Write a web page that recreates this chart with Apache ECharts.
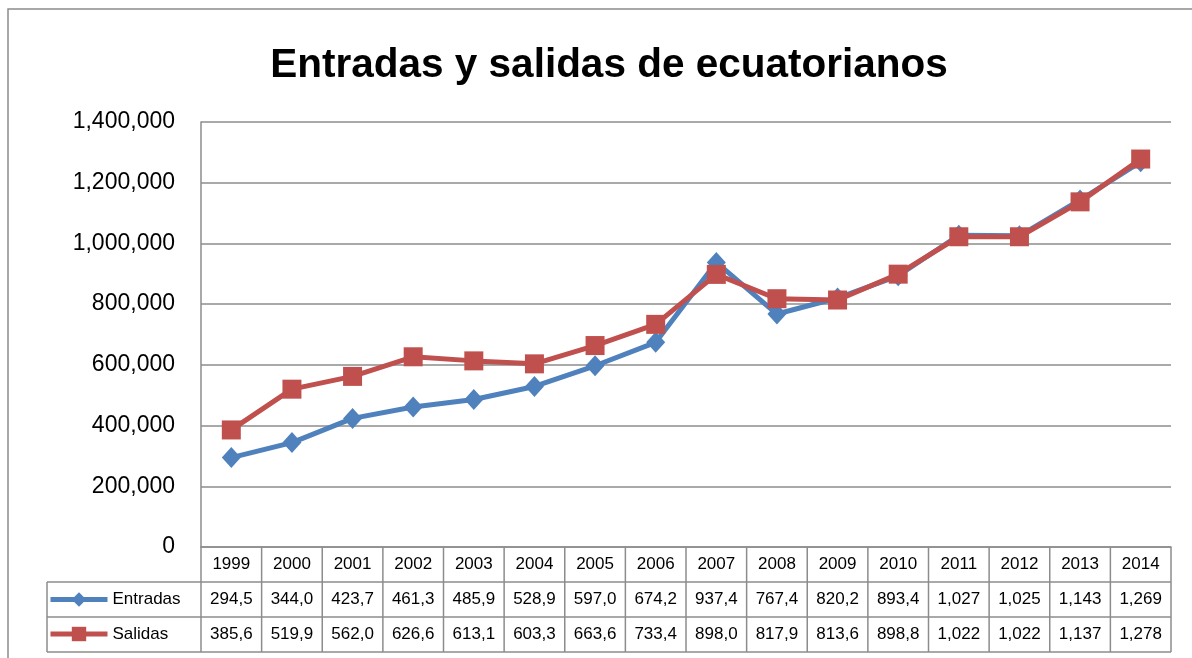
<!DOCTYPE html>
<html>
<head>
<meta charset="utf-8">
<script src="https://cdn.jsdelivr.net/npm/echarts@6/dist/echarts.min.js"></script>
<style>
  html, body { margin: 0; padding: 0; background: #fff; }
  #chart { width: 1192px; height: 658px; }
</style>
</head>
<body>
<div id="chart"></div>
<script>
(function() {
  var years = ['1999', '2000', '2001', '2002', '2003', '2004', '2005', '2006',
               '2007', '2008', '2009', '2010', '2011', '2012', '2013', '2014'];
  var entradas = [294500, 344000, 423700, 461300, 485900, 528900, 597000, 674200,
                  937400, 767400, 820200, 893400, 1027000, 1025000, 1143000, 1269000];
  var salidas = [385600, 519900, 562000, 626600, 613100, 603300, 663600, 733400,
                 898000, 817900, 813600, 898800, 1022000, 1022000, 1137000, 1278000];

  var blue = '#4f81bd';
  var red = '#c0504d';
  var gray = '#8c8c8c';
  var font = '"Liberation Sans", Arial, sans-serif';

  // Excel cuts the number in the narrow table cell to 5 characters
  function cellText(v) {
    return v.toLocaleString('en-US').slice(0, 5);
  }

  var chart = echarts.init(document.getElementById('chart'), null, { renderer: 'canvas' });

  chart.setOption({
    animation: false,
    backgroundColor: '#fff',
    textStyle: { fontFamily: font },
    title: {
      text: 'Entradas y salidas de ecuatorianos',
      left: 604,
      top: 40,
      textAlign: 'center',
      textStyle: { fontFamily: font, fontSize: 40.5, fontWeight: 'bold', color: '#000' }
    },
    legend: {
      orient: 'vertical',
      left: 43,
      top: 586,
      itemWidth: 57,
      itemHeight: 18,
      itemGap: 17.5,
      lineStyle: { width: 5 },
      textStyle: { fontFamily: font, fontSize: 17, color: '#000' },
      data: ['Entradas', 'Salidas']
    },
    grid: { left: 201, right: 21, top: 122, bottom: 111, containLabel: false },
    xAxis: {
      type: 'category',
      data: years,
      boundaryGap: true,
      axisLine: { lineStyle: { color: gray, width: 1.5 } },
      axisTick: { show: false },
      axisLabel: { color: '#000', fontSize: 17, margin: 9, interval: 0 }
    },
    yAxis: {
      type: 'value',
      min: 0,
      max: 1400000,
      interval: 200000,
      axisLine: { show: true, lineStyle: { color: gray, width: 1.5 } },
      axisTick: { show: false },
      splitLine: { lineStyle: { color: gray, width: 1.5 } },
      axisLabel: {
        color: '#000',
        fontSize: 23,
        margin: 26,
        formatter: function(v) { return v.toLocaleString('en-US'); }
      }
    },
    series: [
      {
        name: 'Entradas',
        type: 'line',
        data: entradas,
        symbol: 'diamond',
        symbolSize: [19, 21],
        lineStyle: { color: blue, width: 5 },
        itemStyle: { color: blue }
      },
      {
        name: 'Salidas',
        type: 'line',
        data: salidas,
        symbol: 'rect',
        symbolSize: 19,
        lineStyle: { color: red, width: 5 },
        itemStyle: { color: red }
      }
    ]
  });

  // --- data table under the axis ---
  var x0 = chart.convertToPixel({ xAxisIndex: 0 }, 0);
  var x1 = chart.convertToPixel({ xAxisIndex: 0 }, 1);
  var band = x1 - x0;
  var axisY = chart.convertToPixel({ yAxisIndex: 0 }, 0);
  var rowH = 35;
  var tableLeft = 47;
  var leftEdge = x0 - band / 2;
  var rightEdge = x0 + band * (years.length - 0.5);

  var elements = [];
  var lineStyle = { stroke: gray, lineWidth: 1.5 };

  // outer chart frame
  elements.push({
    type: 'rect', silent: true,
    shape: { x: 8, y: 9, width: 1300, height: 800 },
    style: { fill: null, stroke: gray, lineWidth: 1.5 }
  });

  // horizontal rules
  for (var r = 1; r <= 3; r++) {
    elements.push({
      type: 'line', silent: true, z: -1,
      shape: { x1: tableLeft, y1: axisY + rowH * r, x2: rightEdge, y2: axisY + rowH * r },
      style: lineStyle
    });
  }
  // vertical rules
  elements.push({
    type: 'line', silent: true, z: -1,
    shape: { x1: tableLeft, y1: axisY + rowH, x2: tableLeft, y2: axisY + rowH * 3 },
    style: lineStyle
  });
  for (var c = 0; c <= years.length; c++) {
    var xb = leftEdge + band * c;
    elements.push({
      type: 'line', silent: true,
      shape: { x1: xb, y1: axisY, x2: xb, y2: axisY + rowH * 3 },
      style: lineStyle
    });
  }

  // cell values
  [entradas, salidas].forEach(function(arr, row) {
    arr.forEach(function(v, i) {
      elements.push({
        type: 'text', silent: true,
        x: chart.convertToPixel({ xAxisIndex: 0 }, i),
        y: axisY + rowH * (row + 1.5),
        style: {
          text: cellText(v),
          fill: '#000',
          font: '17px ' + font,
          align: 'center',
          verticalAlign: 'middle'
        }
      });
    });
  });

  chart.setOption({ graphic: { elements: elements } });
})();
</script>
</body>
</html>
